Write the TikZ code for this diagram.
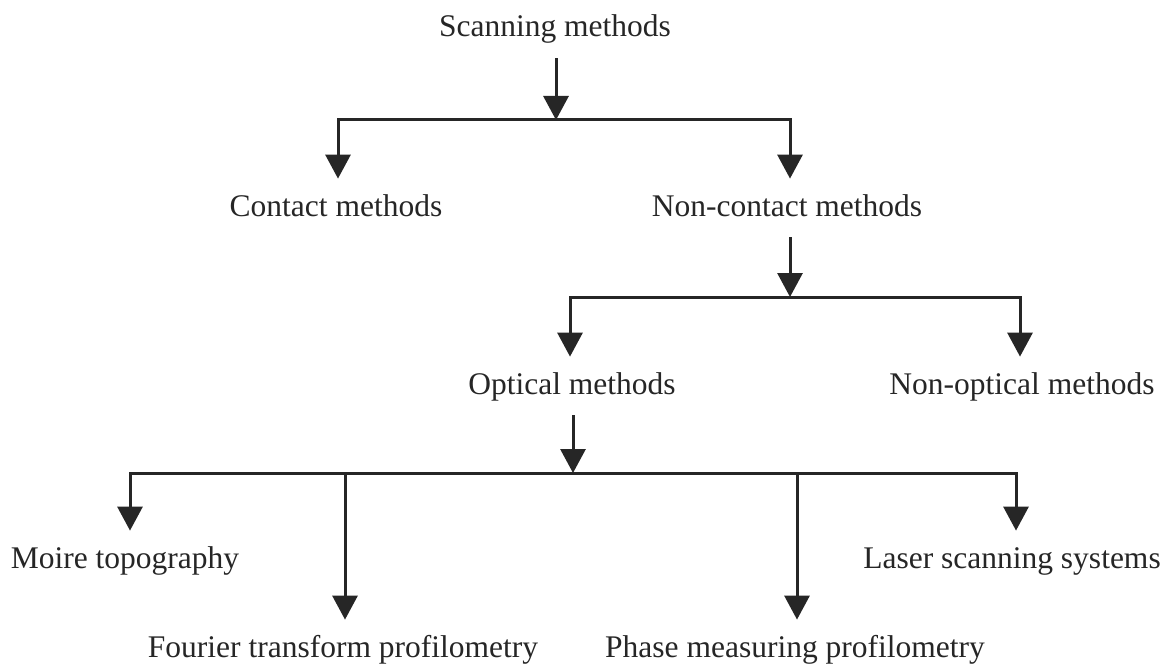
\documentclass[tikz,border=0pt]{standalone}
\usepackage{fontspec}
\setmainfont{Liberation Serif}
\usetikzlibrary{arrows.meta}
\definecolor{ink}{HTML}{262626}
\begin{document}
\begin{tikzpicture}[x=0.5pt,y=-0.5pt,
  lbl/.style={anchor=base, text=ink, font=\fontsize{15.75}{18}\selectfont,
    text height=11pt, text depth=3pt, inner xsep=0pt, inner ysep=7.5pt},
  wire/.style={draw=ink, line width=1.5pt},
  bar/.style={wire, line cap=rect},
  arr/.style={wire, -{Triangle[width=12.5pt,length=12pt]}},
]
\fill[white] (0,0) rectangle (1176,663);
\useasboundingbox (0,0) rectangle (1176,663);

% nodes
\node[lbl] (scan) at (555,37) {Scanning methods};
\node[lbl] (contact) at (336,216) {Contact methods};
\node[lbl] (noncontact) at (787,216) {Non-contact methods};
\node[lbl] (optical) at (572,394) {Optical methods};
\node[lbl] (nonoptical) at (1022,394) {Non-optical methods};
\node[lbl] (moire) at (125,568) {Moire topography};
\node[lbl] (fourier) at (343,657) {Fourier transform profilometry};
\node[lbl] (phase) at (795,657) {Phase measuring profilometry};
\node[lbl] (laser) at (1012,568) {Laser scanning systems};

% level 1
\coordinate (j1) at (556,120);
\coordinate (l1) at (338,120);
\coordinate (r1) at (790,120);
\draw[bar] (l1) -- (r1);
\draw[arr] (j1 |- scan.south) -- (j1);
\draw[arr] (l1) -- (l1 |- contact.north);
\draw[arr] (r1) -- (r1 |- noncontact.north);

% level 2
\coordinate (j2) at (790,297);
\coordinate (l2) at (570,297);
\coordinate (r2) at (1020,297);
\draw[bar] (l2) -- (r2);
\draw[arr] (j2 |- noncontact.south) -- (j2);
\draw[arr] (l2) -- (l2 |- optical.north);
\draw[arr] (r2) -- (r2 |- nonoptical.north);

% level 3
\coordinate (j3) at (573,473);
\coordinate (l3) at (130,473);
\coordinate (f3) at (345,473);
\coordinate (p3) at (797,473);
\coordinate (r3) at (1016,473);
\draw[bar] (l3) -- (r3);
\draw[arr] (j3 |- optical.south) -- (j3);
\draw[arr] (l3) -- (l3 |- moire.north);
\draw[arr] (f3) -- (f3 |- fourier.north);
\draw[arr] (p3) -- (p3 |- phase.north);
\draw[arr] (r3) -- (r3 |- laser.north);
\end{tikzpicture}
\end{document}
